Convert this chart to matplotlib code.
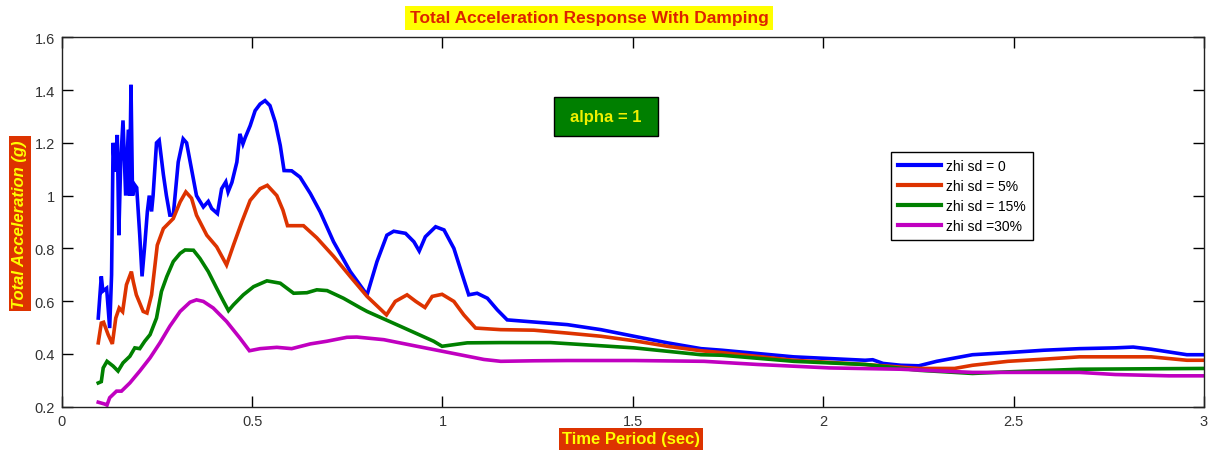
import matplotlib
matplotlib.use("Agg")
import matplotlib.pyplot as plt
from matplotlib.patches import Rectangle

plt.rcParams['font.family'] = ['Liberation Sans', 'DejaVu Sans']

# ---------------- data ----------------
period_z0 = [0.096, 0.104, 0.108, 0.118, 0.126, 0.131, 0.135, 0.139, 0.146, 0.150,
             0.155, 0.161, 0.168, 0.175, 0.178, 0.182, 0.186, 0.192, 0.197, 0.205,
             0.211, 0.218, 0.225, 0.230, 0.236, 0.240, 0.249, 0.256, 0.267, 0.275,
             0.284, 0.293, 0.306, 0.319, 0.328, 0.341, 0.354, 0.372, 0.385, 0.394,
             0.409, 0.420, 0.431, 0.437, 0.447, 0.460, 0.468, 0.476, 0.482, 0.495,
             0.508, 0.521, 0.534, 0.547, 0.561, 0.574, 0.584, 0.604, 0.626, 0.653,
             0.679, 0.714, 0.758, 0.802, 0.828, 0.854, 0.872, 0.903, 0.925, 0.939,
             0.955, 0.982, 1.004, 1.030, 1.052, 1.069, 1.091, 1.118, 1.144, 1.170,
             1.240, 1.328, 1.416, 1.503, 1.591, 1.679, 1.734, 1.922, 2.110, 2.130,
             2.157, 2.204, 2.251, 2.298, 2.392, 2.485, 2.579, 2.673, 2.767, 2.814,
             2.861, 2.955, 3.000]
accel_z0 = [0.536, 0.694, 0.638, 0.649, 0.498, 0.700, 1.200, 1.090, 1.230, 0.850,
            1.130, 1.285, 1.000, 1.250, 1.000, 1.420, 1.000, 1.040, 1.030, 0.850,
            0.694, 0.810, 0.940, 1.000, 0.940, 1.000, 1.200, 1.210, 1.080, 1.000,
            0.926, 0.926, 1.127, 1.215, 1.200, 1.100, 1.000, 0.957, 0.978, 0.951,
            0.932, 1.026, 1.052, 1.014, 1.050, 1.127, 1.234, 1.196, 1.220, 1.265,
            1.322, 1.347, 1.360, 1.341, 1.278, 1.190, 1.095, 1.094, 1.070, 1.008,
            0.938, 0.825, 0.712, 0.624, 0.750, 0.850, 0.865, 0.857, 0.825, 0.790,
            0.844, 0.882, 0.870, 0.800, 0.700, 0.624, 0.630, 0.611, 0.567, 0.529,
            0.521, 0.511, 0.492, 0.467, 0.442, 0.420, 0.414, 0.389, 0.376, 0.378,
            0.364, 0.357, 0.355, 0.372, 0.397, 0.405, 0.414, 0.420, 0.423, 0.426,
            0.418, 0.397, 0.397]

period_z5 = [0.096, 0.104, 0.110, 0.122, 0.133, 0.142, 0.151, 0.160, 0.170, 0.183,
             0.188, 0.196, 0.214, 0.224, 0.236, 0.251, 0.267, 0.293, 0.311, 0.326,
             0.341, 0.354, 0.381, 0.407, 0.433, 0.451, 0.473, 0.495, 0.521, 0.540,
             0.565, 0.581, 0.593, 0.635, 0.670, 0.714, 0.758, 0.802, 0.853, 0.876,
             0.907, 0.930, 0.954, 0.973, 0.999, 1.030, 1.056, 1.087, 1.153, 1.240,
             1.328, 1.416, 1.503, 1.591, 1.679, 1.734, 1.922, 2.110, 2.251, 2.345,
             2.392, 2.485, 2.579, 2.673, 2.861, 2.955, 3.000]
accel_z5 = [0.442, 0.517, 0.520, 0.473, 0.438, 0.536, 0.574, 0.560, 0.662, 0.712,
            0.674, 0.624, 0.561, 0.555, 0.624, 0.812, 0.875, 0.913, 0.976, 1.014,
            0.990, 0.926, 0.850, 0.806, 0.737, 0.812, 0.900, 0.982, 1.026, 1.039,
            1.000, 0.945, 0.886, 0.886, 0.840, 0.770, 0.693, 0.618, 0.548, 0.599,
            0.624, 0.599, 0.576, 0.618, 0.626, 0.599, 0.548, 0.498, 0.492, 0.490,
            0.479, 0.467, 0.450, 0.429, 0.412, 0.405, 0.376, 0.360, 0.345, 0.345,
            0.357, 0.372, 0.380, 0.389, 0.389, 0.376, 0.376]

period_z15 = [0.096, 0.104, 0.109, 0.119, 0.135, 0.148, 0.161, 0.179, 0.192, 0.205,
              0.218, 0.232, 0.249, 0.262, 0.276, 0.293, 0.311, 0.324, 0.346, 0.363,
              0.385, 0.407, 0.425, 0.438, 0.451, 0.477, 0.504, 0.539, 0.574, 0.609,
              0.644, 0.670, 0.697, 0.740, 0.784, 0.802, 0.889, 0.977, 0.999, 1.065,
              1.153, 1.284, 1.372, 1.503, 1.591, 1.679, 1.734, 1.922, 2.110, 2.251,
              2.392, 2.485, 2.673, 3.000]
accel_z15 = [0.290, 0.295, 0.347, 0.372, 0.354, 0.335, 0.366, 0.391, 0.423, 0.420,
             0.448, 0.473, 0.536, 0.637, 0.693, 0.750, 0.781, 0.794, 0.793, 0.762,
             0.712, 0.649, 0.599, 0.564, 0.586, 0.624, 0.655, 0.677, 0.668, 0.630,
             0.632, 0.643, 0.640, 0.611, 0.575, 0.561, 0.505, 0.448, 0.429, 0.442,
             0.443, 0.443, 0.435, 0.423, 0.410, 0.397, 0.395, 0.372, 0.360, 0.338,
             0.326, 0.332, 0.342, 0.345]

period_z30 = [0.096, 0.113, 0.119, 0.126, 0.144, 0.157, 0.179, 0.205, 0.232, 0.258,
              0.284, 0.311, 0.337, 0.354, 0.372, 0.398, 0.433, 0.468, 0.493, 0.521,
              0.565, 0.604, 0.653, 0.696, 0.749, 0.775, 0.846, 0.933, 1.021, 1.109,
              1.153, 1.240, 1.328, 1.503, 1.687, 1.828, 2.016, 2.204, 2.392, 2.673,
              2.767, 2.908, 3.000]
accel_z30 = [0.217, 0.210, 0.206, 0.234, 0.259, 0.259, 0.290, 0.335, 0.385, 0.442,
             0.505, 0.561, 0.596, 0.605, 0.599, 0.574, 0.523, 0.460, 0.412, 0.420,
             0.425, 0.420, 0.438, 0.448, 0.463, 0.464, 0.454, 0.429, 0.404, 0.379,
             0.372, 0.374, 0.375, 0.375, 0.372, 0.360, 0.347, 0.342, 0.330, 0.330,
             0.322, 0.317, 0.317]

series_labels = ['zhi sd = 0', 'zhi sd = 5%', 'zhi sd = 15%', 'zhi sd =30%']
series_colors = ['#0000ff', '#dd3300', '#008000', '#c000c0']

x_ticks = [0, 0.5, 1, 1.5, 2, 2.5, 3]
x_tick_labels = ['0', '0.5', '1', '1.5', '2', '2.5', '3']
y_ticks = [0.2, 0.4, 0.6, 0.8, 1.0, 1.2, 1.4, 1.6]
y_tick_labels = ['0.2', '0.4', '0.6', '0.8', '1', '1.2', '1.4', '1.6']

# ---------------- figure ----------------
W, H = 1218, 456
fig = plt.figure(figsize=(W / 100, H / 100), dpi=100)
ax = fig.add_axes([61.7 / W, 1 - 407.7 / H, (1204 - 61.7) / W, (407.7 - 38.3) / H])

series = [(period_z0, accel_z0), (period_z5, accel_z5),
          (period_z15, accel_z15), (period_z30, accel_z30)]
for (t, a), lab, col in zip(series, series_labels, series_colors):
    ax.plot(t, a, color=col, lw=2.6, label=lab, solid_joinstyle='miter')

ax.set_xlim(0, 3)
ax.set_ylim(0.2, 1.6)
ax.set_xticks(x_ticks)
ax.set_xticklabels(x_tick_labels)
ax.set_yticks(y_ticks)
ax.set_yticklabels(y_tick_labels)
ax.tick_params(direction='in', top=True, right=True, length=8, width=1,
               labelsize=10.5, labelcolor='#333333', pad=5)
for s in ax.spines.values():
    s.set_linewidth(1.0)
    s.set_color('#222222')

# legend
leg = ax.legend(loc='upper left', bbox_to_anchor=(891 / W, 1 - 153.3 / H),
                bbox_transform=fig.transFigure, borderaxespad=0,
                fontsize=10, handlelength=3.1, handletextpad=0.35,
                labelspacing=0.42, borderpad=0.5, fancybox=False,
                framealpha=1, edgecolor='black')
leg.get_frame().set_linewidth(1.0)
for line in leg.get_lines():
    line.set_linewidth(3)

# alpha box
ax.add_patch(Rectangle(((554 - 61.7) / (1204 - 61.7), (407.7 - 137) / (407.7 - 38.3)),
                       104 / (1204 - 61.7), 39 / (407.7 - 38.3),
                       transform=ax.transAxes, facecolor='#007f00',
                       edgecolor='black', lw=1, zorder=5))
ax.text((606 - 61.7) / (1204 - 61.7), (407.7 - 117.5) / (407.7 - 38.3), 'alpha = 1',
        transform=ax.transAxes, ha='center', va='center', fontsize=12,
        fontweight='bold', color='#f0f000', zorder=6)

# title
fig.text(589 / W, 1 - 19 / H, 'Total Acceleration Response With Damping',
         ha='center', va='center', fontsize=12.5, fontweight='bold', color='#dd2200',
         bbox=dict(boxstyle='square,pad=0.25', facecolor='#ffff00', edgecolor='none'))

# axis labels
fig.text(631 / W, 1 - 440 / H, 'Time Period (sec)', ha='center', va='center',
         fontsize=12, fontweight='bold', color='#ffff00',
         bbox=dict(boxstyle='square,pad=0.2', facecolor='#dd3300', edgecolor='none'))
fig.text(20 / W, 1 - 224.7 / H, 'Total Acceleration (g)', ha='center', va='center',
         rotation=90, fontsize=12, fontweight='bold', fontstyle='italic',
         color='#ffff00',
         bbox=dict(boxstyle='square,pad=0.2', facecolor='#dd3300', edgecolor='none'))

fig.savefig('out.png', dpi=100)
